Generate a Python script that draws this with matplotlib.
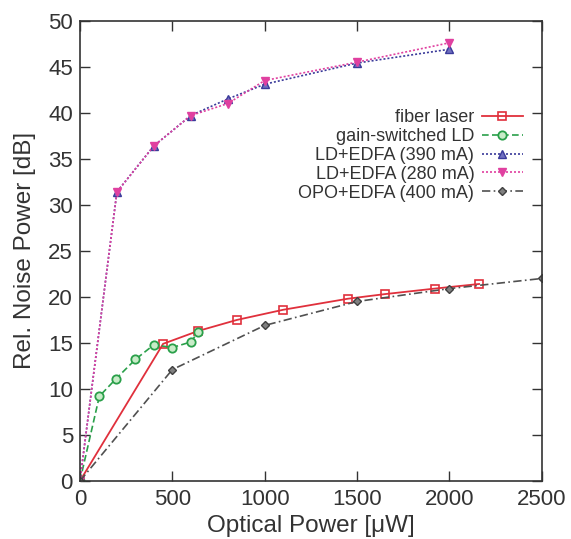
import matplotlib
matplotlib.use("Agg")
import matplotlib.pyplot as plt

plt.rcParams['font.family'] = ['Liberation Sans', 'DejaVu Sans']

# Data
fiber_x = [0, 450, 640, 850, 1100, 1450, 1650, 1920, 2160]
fiber_y = [0, 14.9, 16.3, 17.5, 18.6, 19.8, 20.3, 20.9, 21.4]

gs_x = [0, 105, 195, 300, 400, 500, 600, 640]
gs_y = [0, 9.2, 11.1, 13.2, 14.8, 14.5, 15.1, 16.2]

ld390_x = [0, 200, 400, 600, 800, 1000, 1500, 2000]
ld390_y = [0, 31.4, 36.4, 39.7, 41.5, 43.1, 45.4, 46.9]

ld280_x = [0, 200, 400, 600, 800, 1000, 1500, 2000]
ld280_y = [0, 31.4, 36.4, 39.7, 41.0, 43.5, 45.5, 47.6]

opo_x = [0, 500, 1000, 1500, 2000, 2500]
opo_y = [0, 12.1, 16.9, 19.5, 20.9, 22.0]

labels = ["fiber laser", "gain-switched LD", "LD+EDFA (390 mA)",
          "LD+EDFA (280 mA)", "OPO+EDFA (400 mA)"]

x_ticks = [0, 500, 1000, 1500, 2000, 2500]
y_ticks = [0, 5, 10, 15, 20, 25, 30, 35, 40, 45, 50]

fig = plt.figure(figsize=(5.71, 5.39), dpi=100)
ax = fig.add_axes([0.140, 0.1076, 0.809, 0.854])

ax.plot(fiber_x, fiber_y, color='#e0303c', lw=1.3, ls='-', marker='s', ms=6,
        mfc='none', mec='#e0303c', mew=1.2, label=labels[0])
ax.plot(gs_x, gs_y, color='#2aa04a', lw=1.2, ls=(0, (4, 2)), marker='o', ms=6,
        mfc='#c8ecc8', mec='#2aa04a', mew=1.3, label=labels[1])
ax.plot(ld390_x, ld390_y, color='#3a3a9a', lw=1.2, ls=(0, (1.2, 1.2)), marker='^', ms=6,
        mfc='#7070c0', mec='#3a3a9a', mew=1.0, label=labels[2])
ax.plot(ld280_x, ld280_y, color='#e040a0', lw=1.2, ls=(0, (1.2, 1.2)), marker='v', ms=6,
        mfc='#e040a0', mec='#e040a0', mew=1.0, label=labels[3])
ax.plot(opo_x, opo_y, color='#505050', lw=1.2, ls=(0, (5, 2, 1, 2)), marker='D', ms=4.5,
        mfc='#808080', mec='#404040', mew=1.0, label=labels[4])

ax.set_xlim(0, 2500)
ax.set_ylim(0, 50)
ax.set_xticks(x_ticks)
ax.set_yticks(y_ticks)
ax.tick_params(direction='in', length=7, width=1.0, top=True, right=True,
               labelsize=16, colors='#333333', pad=5)
ax.tick_params(axis='x', pad=6)
for s in ax.spines.values():
    s.set_color('#333333')
    s.set_linewidth(1.2)

ax.set_xlabel('Optical Power [μW]', fontsize=17.5, color='#333333', labelpad=3)
ax.set_ylabel('Rel. Noise Power [dB]', fontsize=17.5, color='#333333', labelpad=9)

leg = ax.legend(loc='upper right', bbox_to_anchor=(0.975, 0.823), frameon=False,
                markerfirst=False, fontsize=13, handlelength=2.3,
                handletextpad=0.4, labelspacing=0.1, borderaxespad=0)
for t in leg.get_texts():
    t.set_color('#333333')

fig.savefig('out.png', dpi=100)
